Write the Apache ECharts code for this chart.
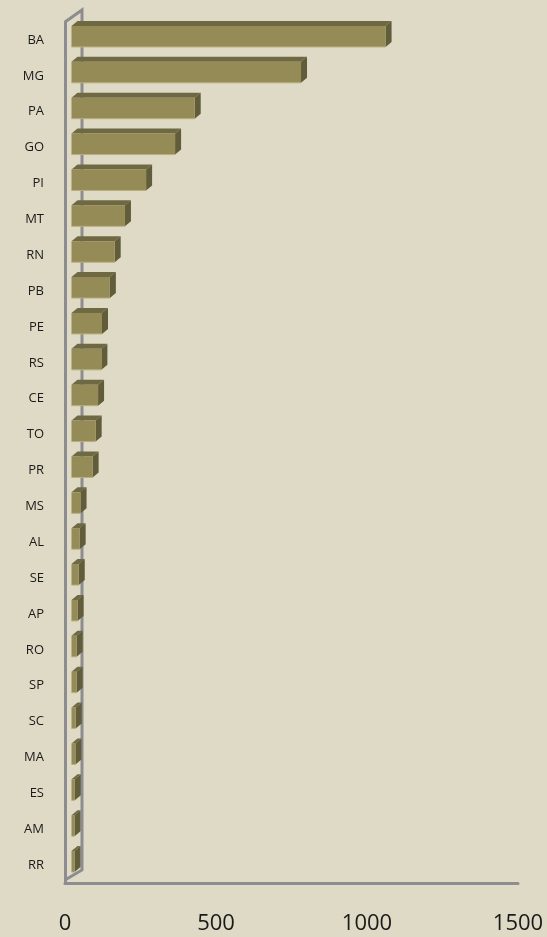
<!DOCTYPE html>
<html>
<head>
<meta charset="utf-8">
<script src="https://cdn.jsdelivr.net/npm/echarts@6/dist/echarts.min.js"></script>
<style>
  html, body { margin: 0; padding: 0; background: #dedac5; }
  #container { width: 547px; height: 937px; }
</style>
</head>
<body>
<div id="container"></div>
<script>
var states = ["BA", "MG", "PA", "GO", "PI", "MT", "RN", "PB", "PE", "RS", "CE", "TO",
  "PR", "MS", "AL", "SE", "AP", "RO", "SP", "SC", "MA", "ES", "AM", "RR"];
var values = [1040, 760, 408, 343, 247, 177, 143, 127, 101, 99, 88, 80,
  70, 30, 27, 24, 20, 17, 17, 14, 13, 11, 10, 10];
var xTicks = [0, 500, 1000, 1500];

var dom = document.getElementById("container");
var myChart = echarts.init(dom);

var gridLeft = 65, gridRight = 29, gridTop = 22, gridBottom = 54;
var wallDx = 17, wallDy = -12;
var wallColor = "#8d8d90";

function renderBar(params, api) {
  var v = api.value(0);
  var idx = api.value(1);
  var p0 = api.coord([0, idx]);
  var p1 = api.coord([v, idx]);
  var h = 21;
  var x0 = p0[0] + 6.5, x1 = p1[0] + 6.5;
  var yc = p0[1] - 3.5;
  var yT = yc - h / 2, yB = yc + h / 2;
  var dd = 6, ddy = -5;
  return {
    type: "group",
    children: [
      {
        type: "polygon",
        shape: { points: [[x0, yT], [x1, yT], [x1 + dd, yT + ddy], [x0 + dd, yT + ddy]] },
        style: { fill: "#6f6943" }
      },
      {
        type: "polygon",
        shape: { points: [[x1, yT], [x1 + dd, yT + ddy], [x1 + dd, yB + ddy], [x1, yB]] },
        style: { fill: "#615c39" }
      },
      {
        type: "rect",
        shape: { x: x0, y: yT, width: x1 - x0, height: h },
        style: { fill: "#958b56" }
      },
      {
        type: "line",
        shape: { x1: x0, y1: yB, x2: x1, y2: yB },
        style: { stroke: "#b8af80", lineWidth: 1 }
      }
    ]
  };
}

var option = {
  backgroundColor: "#dedac5",
  animation: false,
  grid: {
    left: gridLeft,
    right: gridRight,
    top: gridTop,
    bottom: gridBottom
  },
  xAxis: {
    type: "value",
    min: xTicks[0],
    max: xTicks[xTicks.length - 1],
    interval: 500,
    axisLine: { show: true, lineStyle: { color: wallColor, width: 3 } },
    axisTick: { show: false },
    splitLine: { show: false },
    axisLabel: {
      margin: 30,
      fontFamily: "Open Sans",
      fontSize: 22,
      color: "#1a1a1a",
      formatter: function (v) { return String(v); }
    }
  },
  yAxis: {
    type: "category",
    inverse: true,
    data: states,
    axisLine: { show: true, lineStyle: { color: wallColor, width: 3 } },
    axisTick: { show: false },
    splitLine: { show: false },
    axisLabel: {
      margin: 21,
      fontFamily: "Open Sans",
      fontSize: 13,
      color: "#1a1a1a",
      padding: [5, 0, 0, 0]
    }
  },
  series: [
    {
      type: "custom",
      renderItem: renderBar,
      encode: { x: 0, y: 1 },
      data: values.map(function (v, i) { return [v, i]; }),
      z: 5
    }
  ]
};

myChart.setOption(option);

// the back wall of the 3D frame
var yTop = gridTop, yBot = 937 - gridBottom;
var xL = gridLeft;
myChart.setOption({
  graphic: [
    {
      type: "polyline",
      z: 1,
      shape: { points: [[xL, yTop], [xL + wallDx, yTop + wallDy], [xL + wallDx, yBot + wallDy - 1], [xL, yBot - 3]] },
      style: { stroke: wallColor, lineWidth: 3, fill: null }
    }
  ]
});
</script>
</body>
</html>
